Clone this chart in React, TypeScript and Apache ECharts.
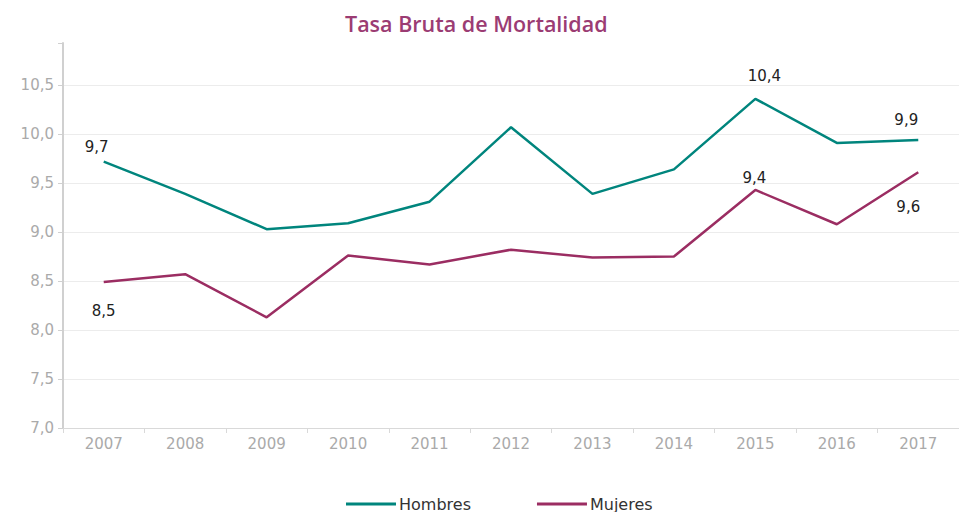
import React, { useEffect, useRef } from "react";
import * as echarts from "echarts";

const years = ["2007", "2008", "2009", "2010", "2011", "2012", "2013", "2014", "2015", "2016", "2017"];
const hombres = [9.72, 9.39, 9.03, 9.09, 9.31, 10.07, 9.39, 9.64, 10.36, 9.91, 9.94];
const mujeres = [8.49, 8.57, 8.13, 8.76, 8.67, 8.82, 8.74, 8.75, 9.43, 9.08, 9.61];
const labelledYears = ["2007", "2015", "2017"];
const hombresLabelOffsets = [[-7, -15], [9, -23], [-12, -20]];
const mujeresLabelOffsets = [[0, 29], [-1, -12], [-10, 35]];

const FONT = "DejaVu Sans";
const fmt = (v: number) => v.toFixed(1).replace(".", ",");

function buildData(values: number[], offsets: number[][]) {
  return values.map((v, i) => {
    const k = labelledYears.indexOf(years[i]);
    if (k < 0) return { value: v, label: { show: false } };
    return {
      value: v,
      label: {
        show: true,
        position: offsets[k],
        align: "center",
        verticalAlign: "middle",
        formatter: () => fmt(v),
        color: "#222",
        fontSize: 15,
        fontFamily: FONT,
      },
    };
  });
}

export default function App() {
  const ref = useRef<HTMLDivElement>(null);
  useEffect(() => {
    if (!ref.current) return;
    const chart = echarts.init(ref.current, null, { renderer: "svg" });
    const gridColors = ["#ececec", "#ececec", "#ececec", "#ececec", "#ececec", "#ececec", "#ececec", "#ececec", "rgba(0,0,0,0)"];
    chart.setOption({
      animation: false,
      title: {
        text: "Tasa Bruta de Mortalidad",
        left: 340,
        top: 7,
        textStyle: { color: "#9B3C73", fontSize: 21.5, fontWeight: 600, fontFamily: "Open Sans" },
      },
      legend: {
        top: 491,
        left: 341,
        itemWidth: 50,
        itemHeight: 3,
        itemGap: 66,
        icon: "rect",
        textStyle: { color: "#333", fontSize: 16, fontFamily: FONT, padding: [0, 0, 0, -2] },
        data: ["Hombres", "Mujeres"],
      },
      grid: { left: 63, top: 43, width: 901, bottom: 84, containLabel: false },
      xAxis: {
        type: "category",
        data: years,
        boundaryGap: true,
        axisLine: { lineStyle: { color: "#d9d9d9", width: 1 } },
        axisTick: { show: true, length: 5, lineStyle: { color: "#d9d9d9" } },
        axisLabel: { color: "#aaa", fontSize: 15, fontFamily: FONT, margin: 8 },
      },
      yAxis: {
        type: "value",
        min: 7,
        max: 10.93,
        interval: 0.5,
        axisLine: { show: true, lineStyle: { color: "#d0d0d0", width: 2 } },
        axisTick: { show: true, length: 5, lineStyle: { color: "#d0d0d0" } },
        axisLabel: {
          color: "#aaa",
          fontSize: 15,
          fontFamily: FONT,
          margin: 9,
          formatter: (v: number) => (Math.abs(v * 2 - Math.round(v * 2)) < 1e-6 ? fmt(v) : ""),
        },
        splitLine: { show: true, lineStyle: { color: gridColors, width: 1 } },
      },
      series: [
        {
          name: "Hombres",
          type: "line",
          data: buildData(hombres, hombresLabelOffsets),
          symbol: "circle",
          symbolSize: 0,
          showSymbol: true,
          lineStyle: { color: "#00857D", width: 2.5 },
          itemStyle: { color: "#00857D" },
        },
        {
          name: "Mujeres",
          type: "line",
          data: buildData(mujeres, mujeresLabelOffsets),
          symbol: "circle",
          symbolSize: 0,
          showSymbol: true,
          lineStyle: { color: "#9B2D62", width: 2.5 },
          itemStyle: { color: "#9B2D62" },
        },
      ],
    });
    return () => chart.dispose();
  }, []);
  return <div ref={ref} style={{ width: 959, height: 512, position: "absolute", left: 0, top: 0 }} />;
}
